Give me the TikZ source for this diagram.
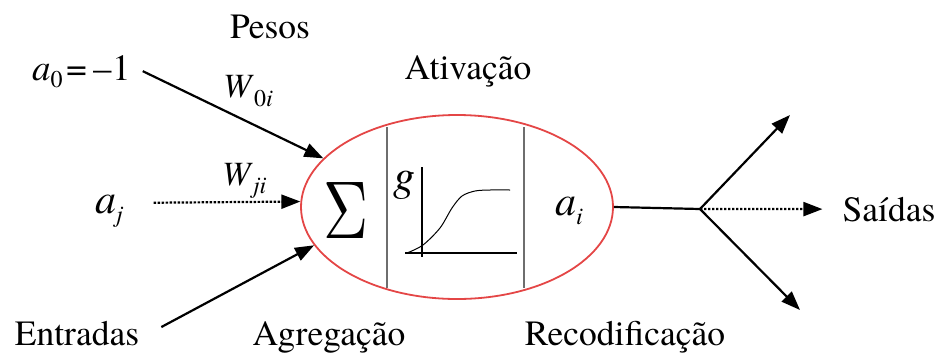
\documentclass[tikz,border=0pt]{standalone}
\usepackage{fontspec}
\setmainfont{texgyretermes}[Extension=.otf,UprightFont=*-regular,ItalicFont=*-italic,BoldFont=*-bold,BoldItalicFont=*-bolditalic]
\usetikzlibrary{arrows.meta,shapes.geometric}
\definecolor{nred}{RGB}{228,70,70}
\definecolor{divgray}{RGB}{110,110,110}
\newcommand{\fs}[1]{\fontsize{#1}{#1}\selectfont}
\newcommand{\mysub}[2]{\raisebox{-#1}{\fs{24}#2}}
\begin{document}
\begin{tikzpicture}[x=1pt,y=-1pt,
  lbl/.style={inner sep=0pt, font=\fs{35.5}},
  var/.style={inner sep=0pt},
  arr/.style={line width=2.2pt, -{Triangle[length=19pt,width=14pt]}},
  dotarr/.style={arr, dash pattern=on 2.4pt off 1.6pt},
  plain/.style={line width=2.2pt},
  divider/.style={line width=2pt, divgray},
  axis/.style={line width=1.3pt}]
\useasboundingbox (0,0) rectangle (940,354);

% neuron body
\node[draw=nred, line width=1.8pt, ellipse, minimum width=312pt, minimum height=184pt, inner sep=0pt] (neuron) at (457,207) {};
\draw[divider] (387,127) -- (387,288);
\draw[divider] (524,127) -- (524,288);

% contents
\node[var] (sigma) at (346,210) {\resizebox{45pt}{56pt}{$\Sigma$}};
\node[var, anchor=base west] (g) at (393,190) {\fs{44}\textit{g}};
\draw[axis] (422,167) -- (422,257);
\draw[axis] (405,253) -- (517,253);
\draw[line width=1pt] plot[smooth] coordinates {(407,253) (423,245) (440,228) (452,208) (462,196) (475,191) (490,190) (510,190)};
\node[var, anchor=base west] (ai) at (555,215) {\fs{42}\textit{a}\mysub{9pt}{\textit{i}}};

% labels
\node[lbl, anchor=base] (pesos) at (270,38) {Pesos};
\node[lbl, anchor=base] (ativ) at (468,79) {Ativação};
\node[lbl, anchor=base] (entr) at (77,345) {Entradas};
\node[lbl, anchor=base] (agreg) at (329,345) {Agregação};
\node[lbl, anchor=base] (recod) at (625,345) {Recodificação};
\node[lbl, anchor=base] (saidas) at (889,221) {Saídas};

% inputs
\node[var, anchor=base west] (a0) at (32,80) {\fs{37}\textit{a}\mysub{7pt}{0}\hspace{4pt}=\hspace{6pt}–1};
\node[var, anchor=base west] (w0i) at (223,97) {\fs{34}\textit{W}\mysub{9pt}{0\textit{i}}};
\node[var, anchor=base west] (wji) at (222,185) {\fs{34}\textit{W}\mysub{8pt}{\textit{ji}}};
\node[var, anchor=base west] (aj) at (95,213) {\fs{42}\textit{a}\mysub{9pt}{\textit{j}}};

\draw[arr] ([xshift=12pt]a0.east) -- (neuron.160.6);
\draw[dotarr] ([shift={(30,-8)}]aj.east) -- (neuron.178);
\draw[arr] ([shift={(22,-6)}]entr.east) -- (neuron.195);

% outputs
\coordinate (br) at (700,209);
\coordinate (o1) at (790,115);
\coordinate (o2) at (800,310);
\draw[plain] (neuron.east) -- (br);
\draw[arr] (br) -- (o1);
\draw[arr] (br) -- (o2);
\draw[dotarr, shorten >=20pt] (br) -- (saidas.west);
\end{tikzpicture}
\end{document}
